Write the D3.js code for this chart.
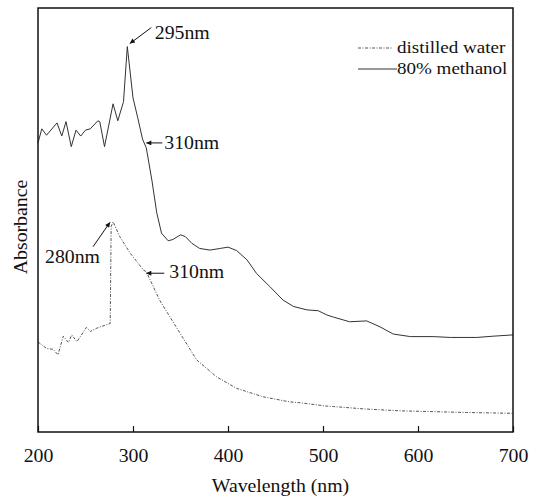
<!DOCTYPE html>
<html><head><meta charset="utf-8">
<script src="https://cdn.jsdelivr.net/npm/d3@7"></script>
</head><body style="margin:0;background:#fff"><svg id="c" width="540" height="499"></svg>
<script>
// wavelength (nm)
const methanolWl = [200,204,209,220,225,229.5,235,240,245,250,255,263,265,270,279,284,290,294,300,305,310,314,320,325,330,337,342,350,355,362,370,381,392,400,409,420,430,444,458,469,483,495,504,511,528,546,560,574,592,616,634,662,679,700];
const methanolAbs = [0.682,0.715,0.700,0.729,0.698,0.732,0.673,0.712,0.698,0.712,0.715,0.734,0.732,0.673,0.774,0.734,0.779,0.909,0.788,0.741,0.691,0.670,0.592,0.517,0.469,0.451,0.454,0.465,0.461,0.445,0.433,0.429,0.433,0.436,0.428,0.406,0.374,0.343,0.311,0.296,0.288,0.286,0.276,0.271,0.260,0.262,0.248,0.231,0.225,0.225,0.223,0.223,0.226,0.229];
const waterWl = [200,202,209,216,221,226.6,232,235.5,241,251,255,262,276,277,279,286,297,311,314,328,349.5,367,388,409,437,465,476,504,511,546,581,616,651,700];
const waterAbs = [0.212,0.209,0.197,0.195,0.182,0.226,0.211,0.229,0.213,0.247,0.237,0.245,0.256,0.484,0.496,0.461,0.422,0.382,0.378,0.311,0.233,0.170,0.130,0.103,0.083,0.071,0.069,0.061,0.060,0.054,0.050,0.048,0.046,0.044];
const xTicks = [200,300,400,500,600,700];
const seriesNames = ["distilled water","80% methanol"];
const annoLabels = ["295nm","310nm","280nm","310nm"];
const annoWl = [294,314,279,314];

const FONT = '"Liberation Serif"';
const SX = 1.1;
const svg = d3.select("#c");
const L=38,R=513,T=8,B=432;
const x = d3.scaleLinear().domain([200,700]).range([L,R]);
const y = d3.scaleLinear().domain([0,1]).range([B,T]);

function txt(px, py, s, size, anchor, rot){
  return svg.append("text").attr("transform",`translate(${px},${py})${rot?` rotate(${rot})`:""} scale(${SX},1)`)
    .attr("text-anchor",anchor||"start").style("font-family",FONT).attr("font-size",size).attr("fill","#111").text(s);
}

const defs = svg.append("defs");
defs.append("marker").attr("id","ah").attr("viewBox","0 0 10 10").attr("refX",10).attr("refY",5)
  .attr("markerWidth",8).attr("markerHeight",5).attr("markerUnits","userSpaceOnUse").attr("orient","auto")
  .append("path").attr("d","M0,0L10,5L0,10Z").attr("fill","#111");

const line = d3.line().x(d=>x(d[0])).y(d=>y(d[1]));
const water = waterWl.map((w,i)=>[w,waterAbs[i]]);
const meth = methanolWl.map((w,i)=>[w,methanolAbs[i]]);

svg.append("path").datum(water).attr("d",line).attr("fill","none").attr("stroke","#555")
  .attr("stroke-width",1).attr("stroke-dasharray","3,1.5,1,1.5");
svg.append("path").datum(meth).attr("d",line).attr("fill","none").attr("stroke","#333").attr("stroke-width",1);

// axis
const ax = svg.append("g").attr("transform",`translate(0,${B})`)
  .call(d3.axisBottom(x).tickValues(xTicks).tickSizeInner(-6).tickSizeOuter(0).tickPadding(17).tickFormat(d3.format("d")));
ax.attr("font-family",null).attr("font-size",18);
ax.select(".domain").remove();
ax.selectAll("line").attr("stroke","#111").attr("stroke-width",1.2);
ax.selectAll("text").style("font-family",FONT).attr("font-size",18).attr("fill","#111")
  .attr("transform",`scale(${SX},1)`);

// frame
svg.append("rect").attr("x",L).attr("y",T).attr("width",R-L).attr("height",B-T)
  .attr("fill","none").attr("stroke","#111").attr("stroke-width",1.5);

txt((L+R)/2+5, 492, "Wavelength (nm)", 18, "middle");
txt(27, 227, "Absorbance", 18, "middle", -90);

// legend
[0,1].forEach(i=>{
  const yy = 48 + i*21;
  svg.append("line").attr("x1",358).attr("x2",i?397:393).attr("y1",yy).attr("y2",yy)
    .attr("stroke", i?"#333":"#555").attr("stroke-width",1).attr("stroke-dasharray", i?null:"3,1.5,1,1.5");
  txt(397, yy+5, seriesNames[i], 17.3, "start");
});

// annotations
function valAt(arr, wl){ const wls=arr.map(d=>d[0]); const i=d3.bisectLeft(wls,wl);
  if(wls[i]===wl) return arr[i][1]; const a=arr[i-1],b=arr[i]; return a[1]+(b[1]-a[1])*(wl-a[0])/(b[0]-a[0]); }
const annos = [
  {s:meth, dx0:24, dy0:-19, dx1:2.5, dy1:-3, tx:27.5, ty:-7.5},
  {s:meth, dx0:16, dy0:-5, dx1:0, dy1:-5, tx:18, ty:1},
  {s:water, dx0:-20, dy0:25, dx1:-3, dy1:0.5, tx:-68, ty:41},
  {s:water, dx0:18, dy0:1.5, dx1:0, dy1:1.5, tx:23, ty:6.5},
];
annos.forEach((a,i)=>{
  const px=x(annoWl[i]), py=y(valAt(a.s,annoWl[i]));
  svg.append("line").attr("x1",px+a.dx0).attr("y1",py+a.dy0).attr("x2",px+a.dx1).attr("y2",py+a.dy1)
    .attr("stroke","#111").attr("stroke-width",1).attr("marker-end","url(#ah)");
  txt(px+a.tx, py+a.ty, annoLabels[i], 18, "start");
});
</script></body></html>
